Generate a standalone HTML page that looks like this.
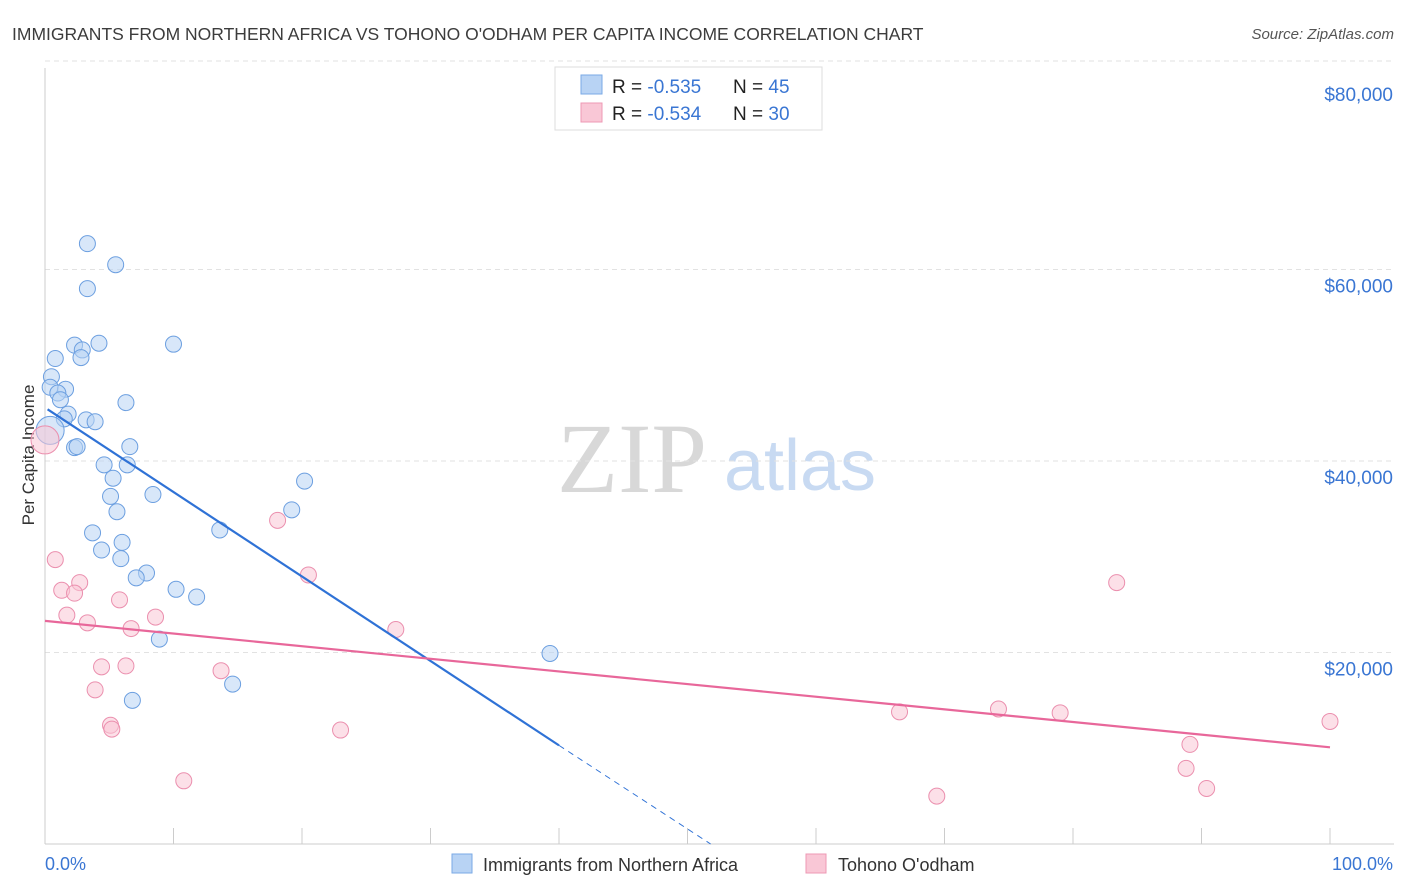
<!DOCTYPE html>
<html><head><meta charset="utf-8"><style>
body{margin:0;background:#fff;font-family:"Liberation Sans",sans-serif;}
#wrap{position:relative;width:1406px;height:892px;overflow:hidden;}
</style></head><body>
<div id="wrap">
<svg id="svg" width="1406" height="892">
<text x="12" y="40" font-size="17.5" fill="#3c3c3c">IMMIGRANTS FROM NORTHERN AFRICA VS TOHONO O'ODHAM PER CAPITA INCOME CORRELATION CHART</text>
<text x="1394" y="39" font-size="15" fill="#555" font-style="italic" text-anchor="end">Source: ZipAtlas.com</text>
<text x="632" y="492" font-size="100" fill="#d8d8d8" font-family="Liberation Serif,serif" text-anchor="middle">ZIP</text>
<text x="800" y="490" font-size="72" fill="#c8daf2" text-anchor="middle">atlas</text>
<text transform="translate(34,455) rotate(-90)" font-size="17" fill="#333" text-anchor="middle">Per Capita Income</text>
<g id="grid"></g><g id="marks"></g>
<g>
<rect x="555" y="67" width="267" height="63" fill="#fff" stroke="#ddd"/>
<rect x="581" y="75" width="21" height="19" fill="#b8d3f4" stroke="#7aaae6"/>
<rect x="581" y="103" width="21" height="19" fill="#f9c7d6" stroke="#ee98b4"/>
<text x="612" y="93" font-size="19" fill="#222">R = <tspan fill="#3a76d3">-0.535</tspan><tspan x="733">N = </tspan><tspan fill="#3a76d3">45</tspan></text>
<text x="612" y="120" font-size="19" fill="#222">R = <tspan fill="#3a76d3">-0.534</tspan><tspan x="733">N = </tspan><tspan fill="#3a76d3">30</tspan></text>
</g>
<g>
<rect x="452" y="854" width="20" height="19" fill="#b8d3f4" stroke="#7aaae6"/>
<text x="483" y="871" font-size="18" fill="#333">Immigrants from Northern Africa</text>
<rect x="806" y="854" width="20" height="19" fill="#f9c7d6" stroke="#ee98b4"/>
<text x="838" y="871" font-size="18" fill="#333">Tohono O'odham</text>
</g>
<text x="45" y="870" font-size="18" fill="#3a76d3">0.0%</text>
<text x="1393" y="870" font-size="18" fill="#3a76d3" text-anchor="end">100.0%</text>
</svg></div>
<script>
const yTicks=[20000,40000,60000,80000];
const yTickLabels=["$20,000","$40,000","$60,000","$80,000"];
const blueX=[3.3,5.5,3.3,2.3,2.9,4.2,10.0,0.8,2.8,0.5,0.4,1.6,1.0,1.2,6.3,1.8,1.5,3.2,3.9,2.3,2.5,6.6,4.6,6.4,5.3,5.1,8.4,5.6,20.2,19.2,13.6,3.7,6.0,4.4,5.9,7.9,7.1,10.2,11.8,8.9,39.3,14.6,6.8,0.4];
const blueY=[62700,60500,58000,52100,51600,52300,52200,50700,50800,48800,47700,47500,47100,46400,46100,44900,44400,44300,44100,41400,41500,41500,39600,39600,38200,36300,36500,34700,37900,34900,32800,32500,31500,30700,29800,28300,27800,26600,25800,21400,19900,16700,15000,43200];
const pinkX=[0.8,2.7,1.3,2.3,1.7,3.3,5.8,8.6,6.7,4.4,6.3,3.9,13.7,5.1,5.2,10.8,18.1,20.5,27.3,23.0,66.5,74.2,79.0,69.4,83.4,89.1,88.8,90.4,100,0];
const pinkY=[29700,27300,26500,26200,23900,23100,25500,23700,22500,18500,18600,16100,18100,12400,12000,6600,33800,28100,22400,11900,13800,14100,13700,5000,27300,10400,7900,5800,12800,42200];
const blueTrend=[[0.2,45400],[40,10300]];
const blueTrendDash=[[40,10300],[51.8,0]];
const pinkTrend=[[0,23300],[100,10100]];
const NS="http://www.w3.org/2000/svg";
const X=v=>45+v*12.85, Y=v=>844-v*191.5/20000;
function mk(t,a,p){const e=document.createElementNS(NS,t);for(const k in a)e.setAttribute(k,a[k]);p.appendChild(e);return e;}
const grid=document.getElementById('grid'),marks=document.getElementById('marks');
yTicks.forEach((v,i)=>{
 const l=mk('line',{x1:45,x2:1394,y1:Y(v)-(i==3?17:0),y2:Y(v)-(i==3?17:0),stroke:'#e2e2e2','stroke-dasharray':'5,4'},grid);
 
 
 const t=mk('text',{x:1393,y:Y(v)+23,'font-size':19,fill:'#3a76d3','text-anchor':'end'},grid);
 t.textContent=yTickLabels[i];
 
 
});
const ax=mk('line',{x1:45,x2:45,y1:68,y2:844,stroke:'#ccc'},grid);


const bx=mk('line',{x1:45,x2:1394,y1:844,y2:844,stroke:'#ccc'},grid);


for(let i=0;i<=10;i++){const t=mk('line',{x1:X(i*10),x2:X(i*10),y1:828,y2:844,stroke:'#ccc'},grid);
 
 }
function pts(xs,ys,fill,stroke,name){xs.forEach((x,i)=>{
 const big=(i==xs.length-1&&x<1);
 const c=mk('circle',{cx:X(x),cy:Y(ys[i]),r:big?14:8,fill:fill,'fill-opacity':0.55,stroke:stroke,'stroke-width':1},marks);
 
 });}
pts(blueX,blueY,'#b8d3f4','#6c9fe0','blue-point');
pts(pinkX,pinkY,'#f9c7d6','#eb8fae','pink-point');
function ln(p,col,dash,name){const l=mk('line',{x1:X(p[0][0]),y1:Y(p[0][1]),x2:X(p[1][0]),y2:Y(p[1][1]),stroke:col,'stroke-width':dash?1:2.2},marks);
 if(dash)l.setAttribute('stroke-dasharray','6,5');
 
 }
ln(blueTrend,'#2f72d6',false,'blue-trend-line');
ln(blueTrendDash,'#2f72d6',true,'blue-trend-extension');
ln(pinkTrend,'#e8679a',false,'pink-trend-line');
</script>
</body></html>
